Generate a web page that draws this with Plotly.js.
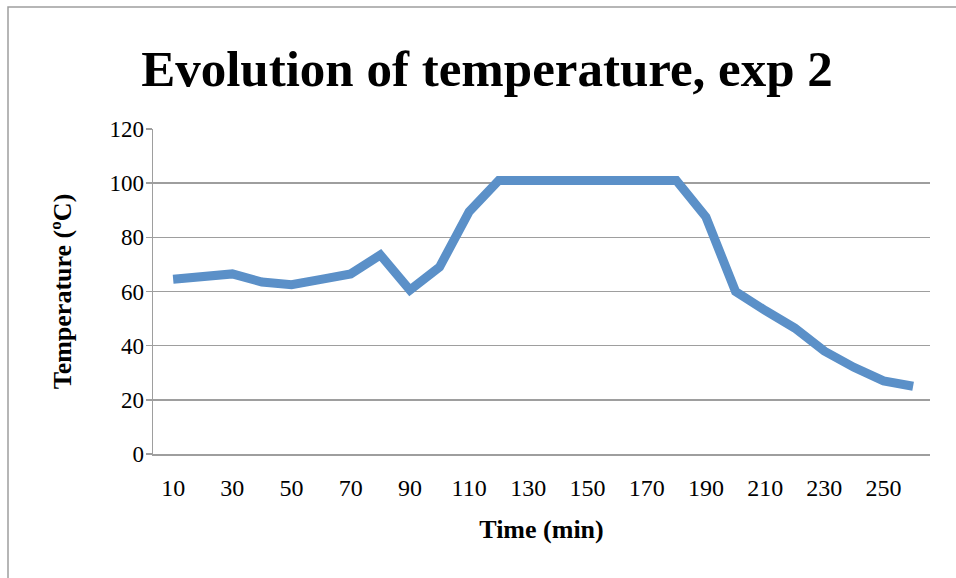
<!DOCTYPE html>
<html>
<head>
<meta charset="utf-8">
<script src="https://cdn.plot.ly/plotly-3.0.1.min.js"></script>
<style>html,body{margin:0;padding:0;background:#fff;}#chart{width:956px;height:578px;}</style>
</head>
<body>
<div id="chart"></div>
<script>
const timeMin = [10,20,30,40,50,60,70,80,90,100,110,120,130,140,150,160,170,180,190,200,210,220,230,240,250,260];
const temperature = [64.5,65.5,66.5,63.5,62.5,64.5,66.5,73.5,60.5,69,89.5,101,101,101,101,101,101,101,87.5,60,53,46.5,38,32,27,25];
const xTickVals = [10,30,50,70,90,110,130,150,170,190,210,230,250];
const yTickVals = [0,20,40,60,80,100,120];

const serif = "Liberation Serif, Times New Roman, serif";
const gray = "#9e9e9e";

const trace = {
  x: timeMin,
  y: temperature,
  type: "scatter",
  mode: "lines",
  line: {color: "#5b90c8", width: 9},
  hoverinfo: "skip"
};

const layout = {
  width: 956, height: 578,
  margin: {l: 153, r: 26, t: 129, b: 124, pad: 0},
  paper_bgcolor: "#fff", plot_bgcolor: "#fff",
  showlegend: false,
  title: {
    text: "<b>Evolution of temperature, exp 2</b>",
    font: {family: serif, size: 51, color: "#000"},
    x: 487/956, xanchor: "center", xref: "container",
    y: 1 - 68/578, yanchor: "middle", yref: "container"
  },
  xaxis: {
    range: [3.2, 265.7],
    tickmode: "array", tickvals: xTickVals,
    ticktext: xTickVals.map(String),
    ticks: "", showgrid: false, zeroline: false,
    showline: true, linecolor: gray, linewidth: 1.5,
    ticklabelstandoff: 12,
    tickfont: {family: serif, size: 24, color: "#000"},
    title: {text: "<b>Time (min)</b>", font: {family: serif, size: 26, color: "#000"}, standoff: 19}
  },
  yaxis: {
    range: [0, 120],
    tickmode: "array", tickvals: yTickVals,
    ticks: "outside", ticklen: 6, tickcolor: gray, tickwidth: 1.5,
    showgrid: true, gridcolor: gray, gridwidth: 1.5,
    zeroline: false,
    showline: true, linecolor: gray, linewidth: 1.5,
    ticklabelstandoff: -3,
    tickfont: {family: serif, size: 23, color: "#000"},
    title: {text: "<b>Temperature (ºC)</b>", font: {family: serif, size: 26, color: "#000"}, standoff: 30}
  },
  shapes: [{
    type: "rect", xref: "paper", yref: "paper",
    x0: (8 - 153)/777, x1: (975 - 153)/777,
    y0: (454 - 600)/325, y1: (454 - 7)/325,
    line: {color: gray, width: 1.5}, fillcolor: "rgba(0,0,0,0)", layer: "below"
  }]
};

Plotly.newPlot("chart", [trace], layout, {displayModeBar: false, staticPlot: true});
</script>
</body>
</html>
